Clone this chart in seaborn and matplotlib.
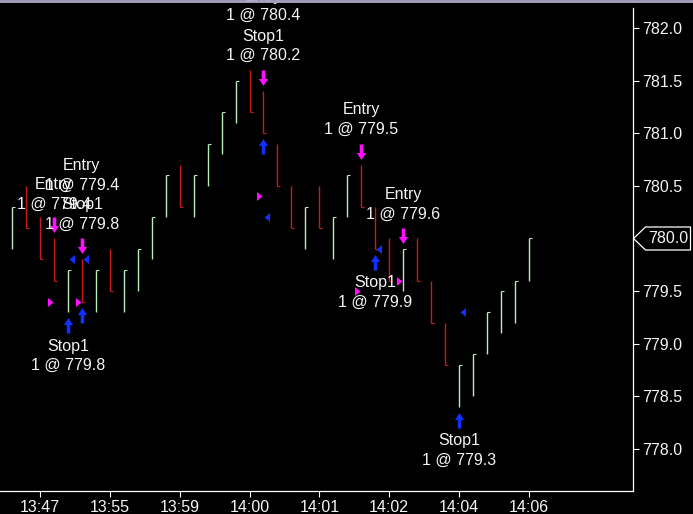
import numpy as np
import pandas as pd
import matplotlib.pyplot as plt
import matplotlib.transforms as mtransforms
from matplotlib.path import Path
from matplotlib.lines import Line2D
import seaborn as sns

DPI = 100

# range bars (one per bar slot)
bar_high = [780.3, 780.5, 780.2, 780.0, 779.7, 779.8, 779.7, 779.9, 779.7, 779.9,
            780.2, 780.6, 780.7, 780.6, 780.9, 781.2, 781.5, 781.6, 781.4, 780.9,
            780.5, 780.3, 780.5, 780.2, 780.6, 780.7, 780.3, 780.0, 779.9, 780.0,
            779.6, 779.2, 778.8, 778.9, 779.3, 779.5, 779.6, 780.0]
bar_low = [779.9, 780.1, 779.8, 779.6, 779.3, 779.4, 779.3, 779.5, 779.3, 779.5,
           779.8, 780.2, 780.3, 780.2, 780.5, 780.8, 781.1, 781.2, 781.0, 780.5,
           780.1, 779.9, 780.1, 779.8, 780.2, 780.3, 779.9, 779.6, 779.5, 779.6,
           779.2, 778.8, 778.4, 778.5, 778.9, 779.1, 779.2, 779.6]
bar_up = [1, 0, 0, 0, 1, 0, 1, 0, 1, 1,
          1, 1, 0, 1, 1, 1, 1, 0, 0, 0,
          0, 1, 0, 1, 1, 0, 0, 0, 1, 0,
          0, 0, 1, 1, 1, 1, 1, 1]

time_labels = ['13:47', '13:55', '13:59', '14:00', '14:01', '14:02', '14:04', '14:06']
time_label_bars = [2, 7, 12, 17, 22, 27, 32, 37]

price_ticks = [778.0, 778.5, 779.0, 779.5, 780.5, 781.0, 781.5, 782.0]
last_price = 780.0

# trades: short entries and their Stop1 exits
entry_bar = [3, 5, 18, 25, 28]
entry_price = [779.4, 779.4, 780.4, 779.5, 779.6]
exit_bar = [4, 5, 18, 26, 32]
exit_price = [779.8, 779.8, 780.2, 779.9, 779.3]

# label placement (pixels from the arrow), the chart shifts some to avoid overlaps
entry_label_dy = [41, 81, 82, 42, 41]
exit_label_dy = [-21, 110, 110, -21, -21]

bars = pd.DataFrame({'bar': np.arange(len(bar_high)), 'high': bar_high,
                     'low': bar_low, 'up': bar_up})
bars['close'] = np.where(bars['up'] == 1, bars['high'], bars['low'])
entries = pd.DataFrame({'bar': entry_bar, 'price': entry_price,
                        'high': [bar_high[i] for i in entry_bar]})
exits = pd.DataFrame({'bar': exit_bar, 'price': exit_price,
                      'low': [bar_low[i] for i in exit_bar]})

sns.set_style('dark', {'axes.facecolor': 'black', 'figure.facecolor': 'black'})
plt.rcParams['font.family'] = ['Liberation Sans', 'DejaVu Sans']
plt.rcParams['font.size'] = 11.5

GREEN = '#b8ecb8'
RED = '#cc1a1a'
MAGENTA = '#ff10ff'
BLUE = '#1030ff'
TXT = '#f4f4f4'


def px_marker(verts):
    # marker drawn in pixel units around the anchor point; returns (path, ms)
    verts = np.asarray(verts, dtype=float)
    r = np.max(np.abs(verts))
    codes = [Path.MOVETO] + [Path.LINETO] * (len(verts) - 1) + [Path.CLOSEPOLY]
    path = Path(np.vstack([verts, verts[:1]]), codes)
    ms = 2 * r * 72.0 / DPI
    return path, ms


down_arrow, down_ms = px_marker([(-1.8, 21), (1.8, 21), (1.8, 12.5), (4.6, 12.5),
                                 (0, 5.5), (-4.6, 12.5), (-1.8, 12.5)])
up_arrow, up_ms = px_marker([(-1.8, -21), (1.8, -21), (1.8, -12.5), (4.6, -12.5),
                             (0, -5.5), (-4.6, -12.5), (-1.8, -12.5)])
fill_in, fill_in_ms = px_marker([(-6.5, 4.5), (-1, 0), (-6.5, -4.5)])
fill_out, fill_out_ms = px_marker([(6.5, 4.5), (1, 0), (6.5, -4.5)])
price_tag, price_tag_ms = px_marker([(0, 0), (12, 11.5), (57, 11.5), (57, -11.5), (12, -11.5)])

fig = plt.figure(figsize=(6.93, 5.14), dpi=DPI)
ax = fig.add_axes([0.0, 23 / 514, 633 / 693, (491 - 8) / 514])

ax.vlines(bars['bar'], bars['low'], bars['high'],
          colors=np.where(bars['up'] == 1, GREEN, RED), lw=1.0, zorder=2)
for up, grp in bars.groupby('up'):
    ax.plot(grp['bar'], grp['close'], ls='none', marker=1, ms=2.5, mew=0.8,
            color=GREEN if up == 1 else RED, zorder=2)

sns.scatterplot(data=entries, x='bar', y='high', marker=down_arrow, s=down_ms ** 2,
                color=MAGENTA, linewidth=0, ax=ax, zorder=4, legend=False)
sns.scatterplot(data=exits, x='bar', y='low', marker=up_arrow, s=up_ms ** 2,
                color=BLUE, linewidth=0, ax=ax, zorder=4, legend=False)
sns.scatterplot(data=entries, x='bar', y='price', marker=fill_in, s=fill_in_ms ** 2,
                color=MAGENTA, linewidth=0, ax=ax, zorder=4, legend=False)
sns.scatterplot(data=exits, x='bar', y='price', marker=fill_out, s=fill_out_ms ** 2,
                color=BLUE, linewidth=0, ax=ax, zorder=4, legend=False)

for (_, row), dy in zip(entries.iterrows(), entry_label_dy):
    for k, line in enumerate(['Entry', '1 @ {:.1f}'.format(row['price'])]):
        ax.annotate(line, xy=(row['bar'], row['high']), xytext=(0, 13 + dy - 19.5 * k),
                    textcoords='offset pixels', ha='center', va='center',
                    color=TXT, fontsize=11.5, annotation_clip=False, zorder=5)
for (_, row), dy in zip(exits.iterrows(), exit_label_dy):
    for k, line in enumerate(['Stop1', '1 @ {:.1f}'.format(row['price'])]):
        ax.annotate(line, xy=(row['bar'], row['low']), xytext=(0, -13 + dy - 19.5 * k),
                    textcoords='offset pixels', ha='center', va='center',
                    color=TXT, fontsize=11.5, annotation_clip=False, zorder=5)

ax.set_xlim(-0.86, 44.45)
ax.set_ylim(777.60, 782.19)
ax.set_xticks(time_label_bars)
ax.set_xticklabels(time_labels)
ax.set_yticks(price_ticks)
ax.set_yticklabels(['{:.1f}'.format(p) for p in price_ticks])
ax.yaxis.tick_right()
ax.tick_params(axis='both', colors='white', labelcolor=TXT, length=4.5, width=0.8,
               direction='out', labelsize=11.5, bottom=True, right=True, left=False)
ax.tick_params(axis='y', pad=2)
ax.tick_params(axis='x', pad=2)
ax.set_xlabel('')
ax.set_ylabel('')
ax.grid(False)
for side in ['left', 'top']:
    ax.spines[side].set_visible(False)
for side in ['right', 'bottom']:
    ax.spines[side].set_visible(True)
    ax.spines[side].set_color('white')
    ax.spines[side].set_linewidth(0.9)

# last price tag on the price scale
tag_tr = mtransforms.blended_transform_factory(ax.transAxes, ax.transData)
ax.plot([1.0], [last_price], transform=tag_tr, marker=price_tag, ms=price_tag_ms,
        mfc='black', mec='white', mew=0.9, clip_on=False, zorder=6)
ax.annotate('{:.1f}'.format(last_price), xy=(1.0, last_price), xycoords=tag_tr,
            xytext=(35, 0), textcoords='offset pixels', ha='center', va='center',
            color=TXT, fontsize=11.5, annotation_clip=False, zorder=7)

# window frame edge at the top
fig.add_artist(Line2D([0, 1], [1 - 1 / 514, 1 - 1 / 514], transform=fig.transFigure,
                      color='#a8a8c4', lw=2))

fig.savefig('out.png', dpi=DPI, facecolor='black')
